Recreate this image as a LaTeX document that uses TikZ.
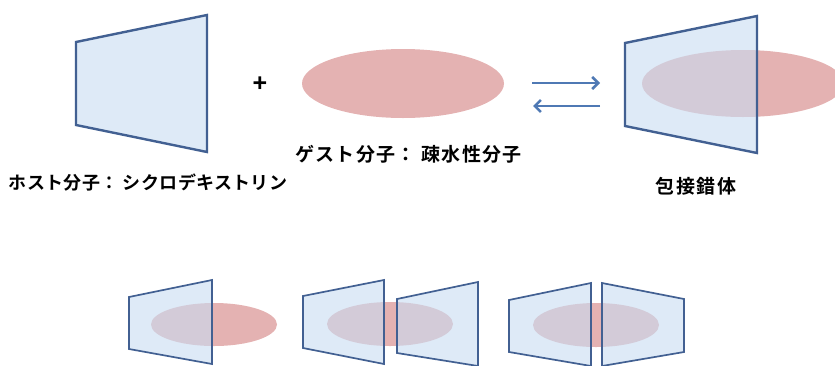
\documentclass[tikz,border=0pt]{standalone}
\usepackage{fontspec}
\newfontfamily\jp{Noto Sans CJK JP}[BoldFont={Noto Sans CJK JP Bold}]
\newfontfamily\plusfont{Liberation Sans}
\usetikzlibrary{arrows.meta}
\definecolor{hostline}{RGB}{66,96,146}
\definecolor{hostfill}{RGB}{200,220,242}
\definecolor{guestfill}{RGB}{228,178,178}
\definecolor{arrowblue}{RGB}{79,121,180}
\tikzset{
  host/.style={draw=hostline, line width=2.4pt, fill=hostfill, fill opacity=0.6, line join=miter},
  hostsmall/.style={host, line width=1.7pt},
  guest/.style={fill=guestfill, draw=none},
  label/.style={text=black, inner sep=0pt},
  eqarrow/.style={draw=arrowblue, line width=2.6pt, -{Straight Barb[length=6pt,width=12pt,line width=2.6pt]}}
}
\begin{document}
\begin{tikzpicture}[x=1pt,y=-1pt]
\useasboundingbox (0,0) rectangle (835,365);
\begin{scope}
\clip (0,0) rectangle (835,365);
% top row
\draw[host] (76,42) -- (207,15) -- (207,152) -- (76,125) -- cycle;
\node[label, font=\plusfont\bfseries\fontsize{25}{26}\selectfont] (plus) at (260,84) {+};
\fill[guest] (403,83.5) ellipse [x radius=101, y radius=34.5];
\coordinate (fwdA) at (532,83);
\coordinate (fwdB) at (600,83);
\coordinate (revA) at (600,106);
\coordinate (revB) at (533,106);
\draw[eqarrow] (fwdA) -- (fwdB);
\draw[eqarrow] (revA) -- (revB);
\fill[guest] (743,83.5) ellipse [x radius=101, y radius=33.5];
\draw[host] (625,43) -- (757,16) -- (757,153) -- (625,126) -- cycle;
% labels
\node[label, font=\jp\bfseries\fontsize{18}{20}\selectfont\addfontfeatures{LetterSpace=2}] (hostlabel) at (148,183) {ホスト分子： シクロデキストリン};
\node[label, font=\jp\bfseries\fontsize{19}{21}\selectfont\addfontfeatures{LetterSpace=7}] (guestlabel) at (408.5,154) {ゲスト分子： 疎水性分子};
\node[label, font=\jp\bfseries\fontsize{19}{21}\selectfont\addfontfeatures{LetterSpace=8}] (complexlabel) at (696,186.5) {包接錯体};
% bottom row
\fill[guest] (214,324.5) ellipse [x radius=63, y radius=21.5];
\draw[hostsmall] (129,297) -- (212,280) -- (212,364) -- (129,349) -- cycle;
\fill[guest] (390,324) ellipse [x radius=63, y radius=22];
\draw[hostsmall] (303,296) -- (384,280) -- (384,364) -- (303,348) -- cycle;
\draw[hostsmall] (397,299) -- (478,282) -- (478,366) -- (397,353) -- cycle;
\fill[guest] (596,325) ellipse [x radius=63, y radius=22];
\draw[hostsmall] (509,300) -- (591,283) -- (591,366) -- (509,352) -- cycle;
\draw[hostsmall] (602,283) -- (684,299) -- (684,352) -- (602,366) -- cycle;
\end{scope}
\end{tikzpicture}
\end{document}
